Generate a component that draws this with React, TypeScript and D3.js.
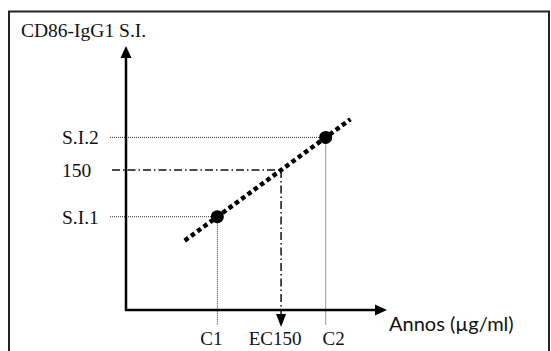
import React from "react";
import * as d3 from "d3";

// Concentrations (µg/ml, arbitrary units) and stimulation indices
const pointLabels = ["C1", "C2"];
const concentrations = [35, 76.5];
const stimulationIndex = [100, 185];
const threshold = 150; // S.I. target used for EC150
const trendExtent = [22.5, 86]; // x range covered by the fitted line
const yTickLabels = ["S.I.1", "150", "S.I.2"];
const xLabelEC = "EC150";
const yTitle = "CD86-IgG1 S.I.";
const xTitle = "Annos (µg/ml)";

const W = 551;
const H = 351;

export default function App() {
  const originX = 126;
  const originY = 310;
  const x = d3.scaleLinear().domain([0, 100]).range([originX, 387]);
  const y = d3.scaleLinear().domain([0, 283]).range([originY, 46]);

  // linear fit through the two measured points
  const slope =
    (stimulationIndex[1] - stimulationIndex[0]) / (concentrations[1] - concentrations[0]);
  const fit = (c: number) => stimulationIndex[0] + (c - concentrations[0]) * slope;
  const ec150 = concentrations[0] + (threshold - stimulationIndex[0]) / slope;

  const line = d3
    .line<number>()
    .x((c) => x(c))
    .y((c) => y(fit(c)));

  const guideLeft = originX - 16;
  const guideBottom = originY + 15;
  const serif = "Liberation Serif, Tinos, Times New Roman, serif";

  const yLevels = [stimulationIndex[0], threshold, stimulationIndex[1]];
  const bottomLabels = [
    { text: pointLabels[0], at: concentrations[0], dx: -6 },
    { text: xLabelEC, at: ec150, dx: -6 },
    { text: pointLabels[1], at: concentrations[1], dx: 8 },
  ];

  return (
    <svg
      width={W}
      height={H}
      style={{ position: "absolute", left: 0, top: 0, background: "#fff" }}
    >
      <rect x={9} y={11.5} width={540} height={400} fill="#fff" stroke="#222" strokeWidth={2} />

      {/* title of the response axis */}
      <text x={21} y={37} fontFamily={serif} fontSize={19.5} fill="#111">
        {yTitle}
      </text>

      {/* dotted guides from the measured points */}
      {concentrations.map((c, i) => (
        <g key={"g" + i} stroke="#333" strokeWidth={1} strokeDasharray="1 1" fill="none">
          <line x1={guideLeft} x2={x(c)} y1={y(stimulationIndex[i])} y2={y(stimulationIndex[i])} />
          <line x1={x(c)} x2={x(c)} y1={y(stimulationIndex[i])} y2={guideBottom} />
        </g>
      ))}

      {/* dash-dot guides for the threshold */}
      <g stroke="#111" strokeWidth={1.5} strokeDasharray="8 3 1.5 3" fill="none">
        <line x1={guideLeft + 2} x2={x(ec150)} y1={y(threshold)} y2={y(threshold)} />
        <line x1={x(ec150)} x2={x(ec150)} y1={y(threshold)} y2={guideBottom - 10} />
      </g>
      <path
        d={`M${x(ec150) - 5},${guideBottom - 11} L${x(ec150) + 5},${guideBottom - 11} L${x(ec150)},${guideBottom + 2} Z`}
        fill="#000"
      />

      {/* axes */}
      <g stroke="#000" strokeWidth={2.5}>
        <line x1={originX} x2={originX} y1={originY + 1} y2={y(283) + 10} />
        <line x1={originX - 1} x2={x(100) - 10} y1={originY} y2={originY} />
      </g>
      <path
        d={`M${originX},${y(283)} L${originX - 5.5},${y(283) + 12} L${originX + 5.5},${y(283) + 12} Z`}
        fill="#000"
      />
      <path
        d={`M${x(100)},${originY} L${x(100) - 12},${originY - 5.5} L${x(100) - 12},${originY + 5.5} Z`}
        fill="#000"
      />

      {/* fitted line */}
      <path
        d={line(trendExtent) || ""}
        fill="none"
        stroke="#000"
        strokeWidth={4.5}
        strokeDasharray="4.5 3.3"
      />

      {/* measured points */}
      {concentrations.map((c, i) => (
        <circle key={"p" + i} cx={x(c)} cy={y(stimulationIndex[i])} r={6.5} fill="#000" />
      ))}

      {/* level labels */}
      {yLevels.map((v, i) => (
        <text
          key={"yl" + i}
          x={62}
          y={y(v) + 7}
          fontFamily={serif}
          fontSize={19.5}
          fill="#111"
        >
          {yTickLabels[i]}
        </text>
      ))}

      {/* concentration labels */}
      {bottomLabels.map((b, i) => (
        <text
          key={"xl" + i}
          x={x(b.at) + b.dx}
          y={345}
          textAnchor="middle"
          fontFamily={serif}
          fontSize={19}
          fill="#111"
        >
          {b.text}
        </text>
      ))}

      <text x={389} y={331} fontFamily="Lato, Open Sans, sans-serif" fontSize={20} fill="#111">
        {xTitle}
      </text>
    </svg>
  );
}
